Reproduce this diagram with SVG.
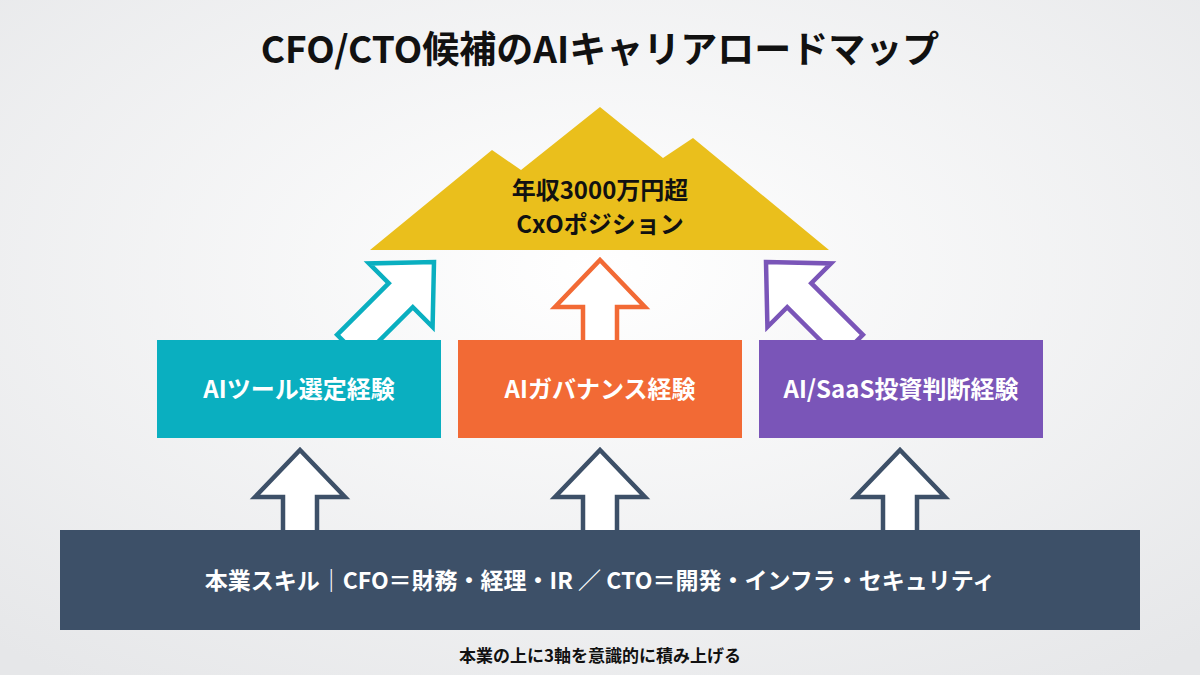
<svg xmlns="http://www.w3.org/2000/svg" width="1200" height="675" viewBox="0 0 1200 675">
<defs>
<radialGradient id="bg" cx="50%" cy="40%" r="75%"><stop offset="0" stop-color="#ffffff"/><stop offset="1" stop-color="#e6e7e9"/></radialGradient>
<path id="up" d="M0,0 L45,47 L17,47 L17,120 L-17,120 L-17,47 L-45,47 Z"/>
<style>
text{font-family:"Noto Sans CJK JP","Noto Sans",sans-serif;text-anchor:middle;font-weight:700}
.bw{fill:#fff;font-size:24px}
.ol{fill:#fff;stroke-width:4.5;stroke-linejoin:miter}
</style>
</defs>
<rect width="1200" height="675" fill="url(#bg)"/>
<text x="600" y="63" font-size="37" fill="#111">CFO/CTO候補のAIキャリアロードマップ</text>
<g id="connectors">
<use href="#up" class="ol" stroke="#3d5068" transform="translate(300,450)"/>
<use href="#up" class="ol" stroke="#3d5068" transform="translate(600,450)"/>
<use href="#up" class="ol" stroke="#3d5068" transform="translate(900,450)"/>
<use href="#up" class="ol" stroke="#f26a35" transform="translate(600,260)"/>
<use href="#up" class="ol" stroke="#0aafc0" transform="translate(434,262) rotate(45)"/>
<use href="#up" class="ol" stroke="#7a55b8" transform="translate(766,262) rotate(-45)"/>
</g>
<g id="goal">
<polygon points="370,250 492,150 521,170 600,107 663,158 693,138 829,250" fill="#eabf1c"/>
<text x="600" y="199" font-size="24" fill="#111">年収3000万円超</text>
<text x="600" y="233" font-size="24" fill="#111">CxOポジション</text>
</g>
<g id="tool"><rect x="157" y="340" width="284" height="98" fill="#0aafc0"/><text class="bw" x="299" y="398">AIツール選定経験</text></g>
<g id="gov"><rect x="458" y="340" width="284" height="98" fill="#f26a35"/><text class="bw" x="600" y="398">AIガバナンス経験</text></g>
<g id="inv"><rect x="759" y="340" width="284" height="98" fill="#7a55b8"/><text class="bw" x="901" y="398">AI/SaaS投資判断経験</text></g>
<g id="base"><rect x="60" y="530" width="1080" height="100" fill="#3d5068"/><text x="600" y="589" font-size="23" fill="#fff" font-weight="500">本業スキル｜CFO＝財務・経理・IR ／ CTO＝開発・インフラ・セキュリティ</text></g>
<text x="600" y="662" font-size="17" fill="#111">本業の上に3軸を意識的に積み上げる</text>
</svg>
